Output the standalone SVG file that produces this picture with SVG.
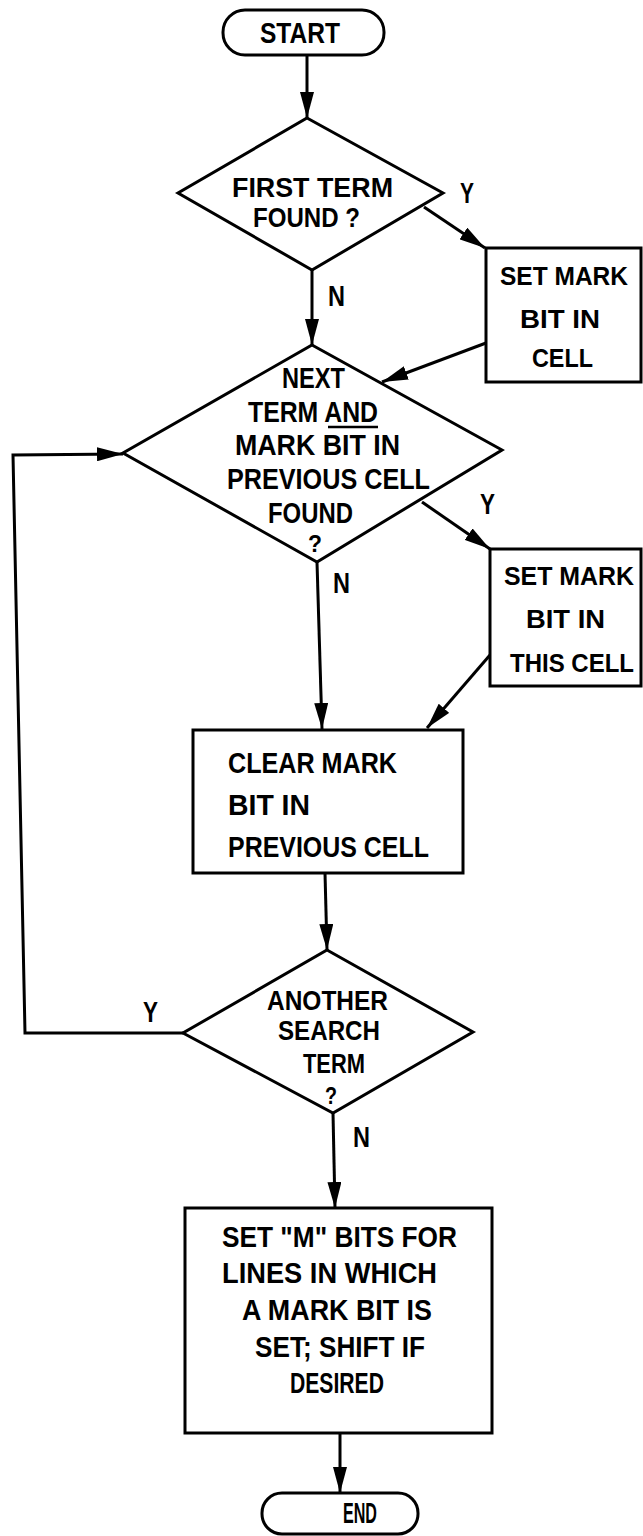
<svg xmlns="http://www.w3.org/2000/svg" width="643" height="1536" viewBox="0 0 643 1536">
<defs>
<style>
.s{fill:#fff;stroke:#000;stroke-width:3;stroke-linejoin:miter}
.c{fill:none;stroke:#000;stroke-width:3}
.t{font-family:"Liberation Sans",Arial,sans-serif;font-size:29px;font-weight:bold;fill:#000}
.r{font-size:25px}
.d{font-size:27px}
.l{font-family:"Liberation Sans",Arial,sans-serif;font-size:29px;font-weight:bold;fill:#000}
</style>
<marker id="ah" markerUnits="userSpaceOnUse" viewBox="0 0 26 14" refX="26" refY="7" markerWidth="26" markerHeight="14" orient="auto">
<path d="M0,0 L26,7 L0,14 z" fill="#000"/>
</marker>
</defs>
<rect width="643" height="1536" fill="#fff"/>

<g id="connectors">
<line class="c" x1="307" y1="55" x2="307" y2="118" marker-end="url(#ah)"/>
<line class="c" x1="424" y1="207" x2="485" y2="248" marker-end="url(#ah)"/>
<line class="c" x1="312" y1="270" x2="312" y2="345" marker-end="url(#ah)"/>
<line class="c" x1="486" y1="343" x2="382" y2="382" marker-end="url(#ah)"/>
<line class="c" x1="422" y1="502" x2="490" y2="549" marker-end="url(#ah)"/>
<line class="c" x1="317" y1="562" x2="322" y2="729" marker-end="url(#ah)"/>
<line class="c" x1="490" y1="655" x2="427" y2="728" marker-end="url(#ah)"/>
<line class="c" x1="325" y1="873" x2="327" y2="950" marker-end="url(#ah)"/>
<polyline class="c" points="183,1033 25,1033 13,455 123,454" marker-end="url(#ah)"/>
<line class="c" x1="333" y1="1113" x2="335" y2="1208" marker-end="url(#ah)"/>
<line class="c" x1="340" y1="1433" x2="340" y2="1493" marker-end="url(#ah)"/>
<text class="l" x="460" y="203" textLength="14" lengthAdjust="spacingAndGlyphs">Y</text>
<text class="l" x="328" y="306" textLength="17" lengthAdjust="spacingAndGlyphs">N</text>
<text class="l" x="480" y="514" textLength="15" lengthAdjust="spacingAndGlyphs">Y</text>
<text class="l" x="333" y="593" textLength="17" lengthAdjust="spacingAndGlyphs">N</text>
<text class="l" x="143" y="1022" textLength="15" lengthAdjust="spacingAndGlyphs">Y</text>
<text class="l" x="353" y="1147" textLength="17" lengthAdjust="spacingAndGlyphs">N</text>
</g>

<g id="start">
<rect class="s" x="223" y="10" width="161" height="45" rx="22"/>
<text class="t" x="260" y="43" textLength="80" lengthAdjust="spacingAndGlyphs">START</text>
</g>

<g id="first-term">
<polygon class="s" points="307,118 443,193 312,270 178,193"/>
<text class="t d" x="232" y="197" textLength="161" lengthAdjust="spacingAndGlyphs">FIRST TERM</text>
<text class="t d" x="253" y="227" textLength="107" lengthAdjust="spacingAndGlyphs">FOUND ?</text>
</g>

<g id="set-mark-1">
<rect class="s" x="486" y="248" width="155" height="134"/>
<text class="t r" x="500" y="285" textLength="128" lengthAdjust="spacingAndGlyphs">SET MARK</text>
<text class="t r" x="520" y="328" textLength="80" lengthAdjust="spacingAndGlyphs">BIT IN</text>
<text class="t r" x="532" y="367" textLength="61" lengthAdjust="spacingAndGlyphs">CELL</text>
</g>

<g id="next-term">
<polygon class="s" points="312,345 502,450 317,562 123,453"/>
<text class="t" x="282" y="388" textLength="63" lengthAdjust="spacingAndGlyphs">NEXT</text>
<text class="t" x="248" y="422" textLength="130" lengthAdjust="spacingAndGlyphs">TERM AND</text>
<line x1="328" y1="427" x2="378" y2="427" stroke="#000" stroke-width="2.5"/>
<text class="t" x="235" y="455" textLength="165" lengthAdjust="spacingAndGlyphs">MARK BIT IN</text>
<text class="t" x="227" y="489" textLength="203" lengthAdjust="spacingAndGlyphs">PREVIOUS CELL</text>
<text class="t" x="268" y="523" textLength="85" lengthAdjust="spacingAndGlyphs">FOUND</text>
<text class="t" x="308" y="552" textLength="14" lengthAdjust="spacingAndGlyphs" style="font-size:24px">?</text>
</g>

<g id="set-mark-2">
<rect class="s" x="490" y="549" width="151" height="137"/>
<text class="t r" x="504" y="585" textLength="130" lengthAdjust="spacingAndGlyphs">SET MARK</text>
<text class="t r" x="526" y="628" textLength="79" lengthAdjust="spacingAndGlyphs">BIT IN</text>
<text class="t r" x="510" y="672" textLength="124" lengthAdjust="spacingAndGlyphs">THIS CELL</text>
</g>

<g id="clear-mark">
<rect class="s" x="193" y="730" width="270" height="143"/>
<text class="t" x="228" y="773" textLength="169" lengthAdjust="spacingAndGlyphs">CLEAR MARK</text>
<text class="t" x="228" y="815" textLength="82" lengthAdjust="spacingAndGlyphs">BIT IN</text>
<text class="t" x="228" y="857" textLength="201" lengthAdjust="spacingAndGlyphs">PREVIOUS CELL</text>
</g>

<g id="another-term">
<polygon class="s" points="327,950 473,1032 333,1113 183,1033"/>
<text class="t d" x="267" y="1010" textLength="121" lengthAdjust="spacingAndGlyphs">ANOTHER</text>
<text class="t d" x="278" y="1040" textLength="102" lengthAdjust="spacingAndGlyphs">SEARCH</text>
<text class="t d" x="303" y="1073" textLength="62" lengthAdjust="spacingAndGlyphs">TERM</text>
<text class="t" x="325" y="1104" textLength="12" lengthAdjust="spacingAndGlyphs" style="font-size:24px">?</text>
</g>

<g id="set-m-bits">
<rect class="s" x="185" y="1208" width="307" height="225"/>
<text class="t" x="222" y="1247" textLength="235" lengthAdjust="spacingAndGlyphs">SET "M" BITS FOR</text>
<text class="t" x="222" y="1283" textLength="215" lengthAdjust="spacingAndGlyphs">LINES IN WHICH</text>
<text class="t" x="242" y="1320" textLength="190" lengthAdjust="spacingAndGlyphs">A MARK BIT IS</text>
<text class="t" x="255" y="1357" textLength="170" lengthAdjust="spacingAndGlyphs">SET; SHIFT IF</text>
<text class="t" x="290" y="1393" textLength="94" lengthAdjust="spacingAndGlyphs">DESIRED</text>
</g>

<g id="end">
<rect class="s" x="262" y="1493" width="156" height="41" rx="20"/>
<text class="t" x="343" y="1523" textLength="34" lengthAdjust="spacingAndGlyphs">END</text>
</g>
</svg>
